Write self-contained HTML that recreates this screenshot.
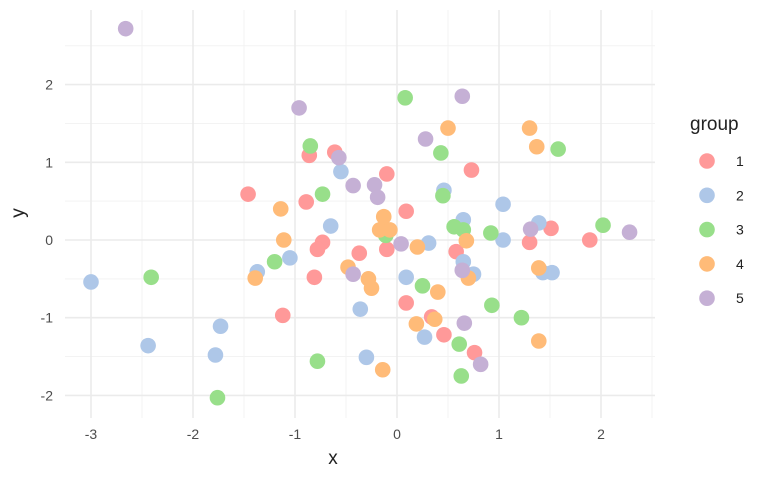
<!DOCTYPE html>
<html><head><meta charset="utf-8"><style>
html,body{margin:0;padding:0;background:#fff;}
svg{display:block;font-family:"Liberation Sans",sans-serif;}
</style></head><body>
<svg id="chart" width="776" height="480" viewBox="0 0 776 480" xmlns="http://www.w3.org/2000/svg">
<g id="grid"></g>
<g id="points"></g>
<g id="axes"></g>
<text x="333" y="464" font-size="19" fill="#222" text-anchor="middle">x</text>
<text x="24" y="213" font-size="19" fill="#222" text-anchor="middle" transform="rotate(-90 24 213)">y</text>
<g id="legend"></g>
</svg>
<script>
const groups = ["1","2","3","4","5"];
const colors = ["#FF9999","#AEC7E8","#98DF8A","#FFBB78","#C5B0D5"];
const x1 = [-1.46,-0.86,-0.61,-0.89,-0.10,0.09,0.73,-0.73,-0.78,-0.10,-0.37,-0.81,-1.12,0.09,0.34,0.46,0.76,0.58,1.30,1.51,1.89];
const y1 = [0.59,1.09,1.13,0.49,0.85,0.37,0.90,-0.03,-0.12,-0.12,-0.17,-0.48,-0.97,-0.81,-0.99,-1.22,-1.45,-0.15,-0.03,0.15,0.00];
const x2 = [-0.55,-0.65,0.46,1.04,0.65,0.31,1.04,1.39,0.65,0.75,1.43,1.52,0.09,-0.36,0.27,-0.30,-3.00,-2.44,-1.73,-1.78,-1.37,-1.05];
const y2 = [0.88,0.18,0.64,0.46,0.26,-0.04,0.00,0.22,-0.28,-0.44,-0.42,-0.42,-0.48,-0.89,-1.25,-1.51,-0.54,-1.36,-1.11,-1.48,-0.41,-0.23];
const x3 = [-0.85,-0.73,0.08,0.43,0.45,1.58,0.56,0.65,0.92,2.02,-0.11,0.25,0.93,1.22,0.61,0.63,-1.20,-2.41,-0.78,-1.76];
const y3 = [1.21,0.59,1.83,1.12,0.57,1.17,0.17,0.13,0.09,0.19,0.06,-0.59,-0.84,-1.00,-1.34,-1.75,-0.28,-0.48,-1.56,-2.03];
const x4 = [-1.14,-0.13,-0.17,-0.07,0.50,1.30,1.37,0.68,0.20,-0.48,-0.28,-0.25,0.40,0.70,1.39,0.19,0.37,1.39,-0.14,-1.11,-1.39];
const y4 = [0.40,0.30,0.13,0.13,1.44,1.44,1.20,-0.01,-0.09,-0.35,-0.50,-0.62,-0.67,-0.49,-0.36,-1.08,-1.02,-1.30,-1.67,0.00,-0.49];
const x5 = [-2.66,-0.96,-0.57,-0.43,-0.22,-0.19,0.64,0.28,0.04,-0.43,0.64,0.66,0.82,1.31,2.28];
const y5 = [2.72,1.70,1.06,0.70,0.71,0.55,1.85,1.30,-0.05,-0.44,-0.39,-1.07,-1.60,0.14,0.10];
const xTicks = [-3,-2,-1,0,1,2];
const yTicks = [-2,-1,0,1,2];
const xLabels = ["-3","-2","-1","0","1","2"];
const yLabels = ["-2","-1","0","1","2"];

const NS = "http://www.w3.org/2000/svg";
const PL = 65, PR = 655, PT = 10, PB = 418;
function sx(v){ return 397 + v * 102; }
function sy(v){ return 240 - v * 77.7; }
function mk(tag, attrs, parent){
  const e = document.createElementNS(NS, tag);
  for (const k in attrs) e.setAttribute(k, attrs[k]);
  parent.appendChild(e); return e;
}
const grid = document.getElementById('grid');
// minor
for (let v = -3.5; v <= 3; v += 1) {
  if (sx(v) >= PL && sx(v) <= PR) {
    const l = mk('line', {x1:sx(v), x2:sx(v), y1:PT, y2:PB, stroke:'#f3f3f3', 'stroke-width':1}, grid);
    
    
  }
}
for (let v = -2.5; v <= 3; v += 1) {
  if (sy(v) >= PT && sy(v) <= PB) {
    const l = mk('line', {x1:PL, x2:PR, y1:sy(v), y2:sy(v), stroke:'#f3f3f3', 'stroke-width':1}, grid);
    
    
  }
}
const axes = document.getElementById('axes');
xTicks.forEach((v, i) => {
  const l = mk('line', {x1:sx(v), x2:sx(v), y1:PT, y2:PB, stroke:'#ebebeb', 'stroke-width':1.6}, grid);
  
  
  const t = mk('text', {x:sx(v), y:439, 'font-size':14, fill:'#4d4d4d', 'text-anchor':'middle'}, axes);
  t.textContent = xLabels[i];
  
  
});
yTicks.forEach((v, i) => {
  const l = mk('line', {x1:PL, x2:PR, y1:sy(v), y2:sy(v), stroke:'#ebebeb', 'stroke-width':1.6}, grid);
  
  
  const t = mk('text', {x:53, y:sy(v) + 5, 'font-size':14, fill:'#4d4d4d', 'text-anchor':'end'}, axes);
  t.textContent = yLabels[i];
  
  
});
const pts = document.getElementById('points');
const xs = [x1,x2,x3,x4,x5], ys = [y1,y2,y3,y4,y5];
xs.forEach((xa, g) => {
  xa.forEach((xv, i) => {
    const c = mk('circle', {cx:sx(xv), cy:sy(ys[g][i]), r:7.8, fill:colors[g]}, pts);
    
    
  });
});
const leg = document.getElementById('legend');
const lt = mk('text', {x:690, y:130, 'font-size':19, fill:'#222'}, leg);
lt.textContent = 'group';


groups.forEach((g, i) => {
  const y = 161 + i * 34.3;
  const c = mk('circle', {cx:707, cy:y, r:7.8, fill:colors[i]}, leg);
  
  
  const t = mk('text', {x:736, y:y + 5, 'font-size':14, fill:'#222'}, leg);
  t.textContent = g;
  
  
});
</script>
</body></html>
